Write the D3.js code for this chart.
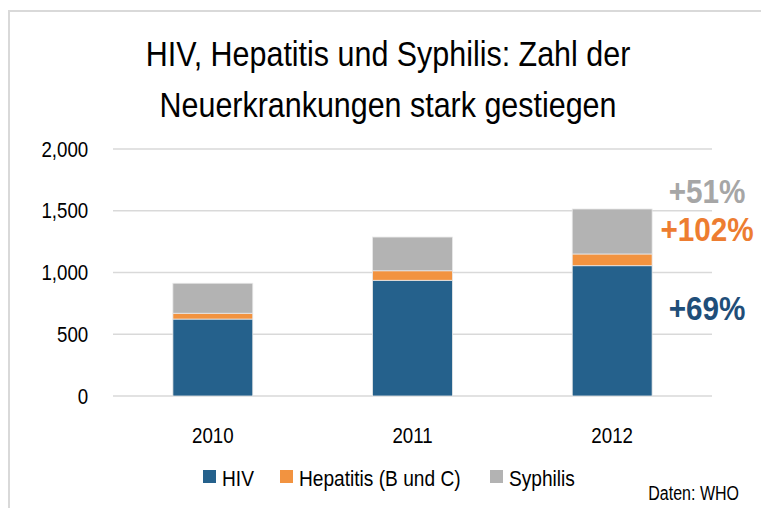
<!DOCTYPE html>
<html>
<head>
<meta charset="utf-8">
<script src="https://cdn.jsdelivr.net/npm/d3@7"></script>
<style>
  body { margin: 0; background: #fff; }
  svg text { font-family: "Liberation Sans", Arial, sans-serif; }
</style>
</head>
<body>
<div id="chart"></div>
<script>
var years = ["2010", "2011", "2012"];
var hiv = [623, 937, 1055];
var hepatitis = [47, 77, 95];
var syphilis = [243, 273, 364];
var seriesNames = ["HIV", "Hepatitis (B und C)", "Syphilis"];
var seriesColors = ["#25618C", "#F29340", "#B3B3B3"];
var yTicks = [0, 500, 1000, 1500, 2000];
var changeLabels = ["+69%", "+102%", "+51%"];
var changeColors = ["#1F4E79", "#ED7D31", "#A6A6A6"];

var width = 761, height = 508,
    narrow = 0.85;   // fake an Arial Narrow look

var svg = d3.select("#chart")
  .append("svg")
  .attr("width", width)
  .attr("height", height);

// squeeze a text horizontally around its anchor point
function squeeze(sel, px, py, s) {
  sel.attr("transform", "translate(" + px + "," + py + ") scale(" + (s || narrow) + ",1)");
}

// chart area frame
svg.append("rect")
  .attr("x", 9).attr("y", 11)
  .attr("width", 800).attr("height", 600)
  .attr("fill", "none")
  .attr("stroke", "#D9D9D9")
  .attr("stroke-width", 2);

// title
var titleLines = ["HIV, Hepatitis und Syphilis: Zahl der", "Neuerkrankungen stark gestiegen"];
svg.append("g").selectAll("text")
  .data(titleLines)
  .enter().append("text")
  .attr("text-anchor", "middle")
  .attr("font-size", 35)
  .attr("fill", "#000")
  .text(function(d){ return d; })
  .each(function(d, i){ squeeze(d3.select(this), 388, 66 + i * 51, 0.87); });

var x = d3.scaleBand()
  .domain(years)
  .range([113, 712])
  .paddingInner(0.6)
  .paddingOuter(0.3);

var y = d3.scaleLinear()
  .domain([0, 2000])
  .range([396, 149]);

// grid
svg.append("g").selectAll("line")
  .data(yTicks)
  .enter().append("line")
  .attr("x1", 113).attr("x2", 712)
  .attr("y1", function(d){ return y(d); })
  .attr("y2", function(d){ return y(d); })
  .attr("stroke", "#D9D9D9")
  .attr("stroke-width", 1.5);

// y axis labels
var yAxis = svg.append("g")
  .attr("transform", "translate(95,0)")
  .call(d3.axisLeft(y).tickValues(yTicks).tickSize(0).tickPadding(8).tickFormat(d3.format(",")));
yAxis.select(".domain").remove();
yAxis.selectAll("text")
  .attr("font-size", 22)
  .attr("fill", "#000")
  .attr("transform", "scale(" + narrow + ",1)");

// x axis labels
var xAxis = svg.append("g")
  .attr("transform", "translate(0,421)")
  .call(d3.axisBottom(x).tickSize(0).tickPadding(6));
xAxis.select(".domain").remove();
xAxis.selectAll("text")
  .attr("font-size", 22)
  .attr("fill", "#000")
  .attr("transform", "scale(" + narrow + ",1)");

// stacked bars
var rows = years.map(function(yr, i){
  return {year: yr, HIV: hiv[i], "Hepatitis (B und C)": hepatitis[i], Syphilis: syphilis[i]};
});
var stacked = d3.stack().keys(seriesNames)(rows);

svg.append("g").selectAll("g")
  .data(stacked)
  .enter().append("g")
  .attr("fill", function(d, i){ return seriesColors[i]; })
  .selectAll("rect")
  .data(function(d){ return d; })
  .enter().append("rect")
  .attr("x", function(d){ return x(d.data.year); })
  .attr("y", function(d){ return y(d[1]); })
  .attr("width", x.bandwidth())
  .attr("height", function(d){ return y(d[0]) - y(d[1]); })
  .attr("stroke", "#E8E8E8")
  .attr("stroke-width", 0.8);

// change labels next to the last bar, hung off each segment top
var last = years.length - 1;
var lastStack = stacked.map(function(s){ return s[last]; });
var labelOffset = [54, -13, -6];
var labelX = x(years[last]) + x.bandwidth() + 55;
svg.append("g").selectAll("text")
  .data(changeLabels)
  .enter().append("text")
  .attr("text-anchor", "middle")
  .attr("font-size", 33)
  .attr("font-weight", "bold")
  .attr("fill", function(d, i){ return changeColors[i]; })
  .text(function(d){ return d; })
  .each(function(d, i){
    squeeze(d3.select(this), labelX, y(lastStack[i][1]) + labelOffset[i], 0.9);
  });

// legend
var legendX = [203, 280, 490];
var legend = svg.append("g").selectAll("g")
  .data(seriesNames)
  .enter().append("g")
  .attr("transform", function(d, i){ return "translate(" + legendX[i] + ",470)"; });
legend.append("rect")
  .attr("width", 13).attr("height", 13)
  .attr("fill", function(d, i){ return seriesColors[i]; });
legend.append("text")
  .attr("font-size", 22)
  .attr("fill", "#000")
  .text(function(d){ return d; })
  .each(function(){ squeeze(d3.select(this), 19, 16, 0.87); });

var source = svg.append("text")
  .attr("text-anchor", "end")
  .attr("font-size", 20)
  .attr("fill", "#000")
  .text("Daten: WHO");
squeeze(source, 739, 500, 0.8);
</script>
</body>
</html>
